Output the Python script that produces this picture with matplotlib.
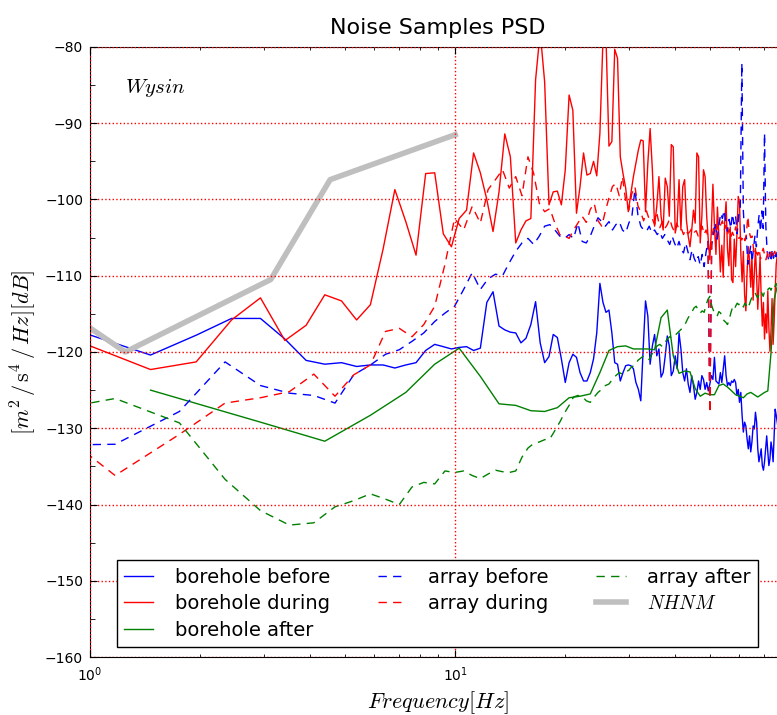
import numpy as np
import matplotlib
matplotlib.use("Agg")
import matplotlib.pyplot as plt
from matplotlib.ticker import MultipleLocator, LogLocator, NullFormatter

# bin width of each PSD estimate (Hz)
borehole_df = 250.0 / 512      # borehole sensor, first bin k=2
array_df = 300.0 / 512         # surface array, first bin k=1
after_df = 375.0 / 256         # borehole after, first bin k=1

# PSD levels in dB re 1 (m/s^2)^2/Hz
borehole_before = [
    -117.6, -120.4, -117.8, -115.6, -115.6, -118.3, -121.1, -121.6, -121.4, -121.9,
    -121.7, -121.7, -122.1, -121.7, -121.4, -119.8, -119.0, -119.3, -119.6, -119.4,
    -119.3, -119.8, -119.5, -113.5, -112.1, -116.6, -117.1, -117.4, -117.5, -118.8,
    -118.2, -116.4, -113.4, -118.8, -121.4, -120.6, -117.7, -118.1, -120.9, -124.0,
    -121.4, -120.3, -120.7, -122.7, -123.8, -123.8, -122.7, -120.9, -117.5, -111.0,
    -113.5, -114.8, -114.5, -117.5, -121.4, -121.6, -123.8, -122.7, -121.8, -121.7,
    -121.8, -122.2, -124.0, -124.9, -126.4, -119.6, -113.3, -115.3, -121.6, -119.2,
    -117.7, -120.5, -119.6, -123.3, -122.7, -120.5, -117.9, -119.2, -123.1, -122.5,
    -120.5, -122.2, -117.5, -119.6, -122.7, -123.8, -122.2, -124.2, -125.3, -123.1,
    -124.4, -126.2, -125.3, -123.8, -124.9, -123.1, -123.6, -124.9, -124.0, -125.1,
    -124.2, -123.1, -123.6, -120.7, -123.8, -124.0, -124.2, -122.7, -124.0, -122.2,
    -120.5, -123.1, -124.4, -124.0, -124.4, -123.8, -124.0, -123.6, -124.0, -125.7,
    -124.9, -126.6, -125.3, -128.3, -130.5, -129.2, -129.7, -131.4, -132.7, -131.0,
    -133.1, -131.8, -129.7, -130.1, -127.9, -129.2, -132.7, -134.4, -133.6, -132.7,
    -134.9, -135.5, -134.4, -132.7, -131.0, -133.1, -134.9, -134.0, -131.8, -132.7,
    -134.4, -131.0, -127.5, -128.3, -129.2, -130.1, -128.6, -131.2, -129.5, -132.0,
    -130.3, -131.1, -129.4,
]

borehole_during = [
    -119.0, -122.3, -121.3, -115.8, -112.9, -118.5, -116.5, -112.5, -113.3, -115.8,
    -113.8, -106.5, -98.7, -102.9, -107.3, -96.6, -96.5, -104.5, -106.2, -102.5,
    -101.4, -93.9, -96.5, -100.0, -104.2, -99.0, -91.4, -94.4, -105.7, -104.0,
    -102.8, -102.5, -84.3, -78.0, -84.6, -100.7, -99.0, -98.9, -100.7, -96.1,
    -86.3, -88.3, -101.8, -98.3, -93.9, -96.8, -96.6, -95.0, -96.9, -91.3,
    -79.0, -78.8, -93.0, -92.4, -80.3, -81.5, -94.4, -96.6, -98.5, -101.6,
    -99.2, -97.0, -95.2, -93.5, -92.2, -92.3, -101.6, -95.2, -90.7, -96.1,
    -103.5, -100.9, -97.0, -102.2, -104.0, -97.2, -98.3, -102.2, -92.8, -93.1,
    -104.4, -103.1, -97.4, -104.0, -98.3, -97.4, -102.7, -104.8, -106.2, -104.0,
    -101.4, -103.1, -93.9, -94.4, -105.7, -102.2, -96.1, -97.0, -102.2, -105.3,
    -107.9, -104.0, -98.0, -103.5, -107.2, -101.0, -104.8, -109.5, -106.0, -110.2,
    -103.0, -100.3, -106.5, -108.7, -103.6, -110.5, -110.9, -105.2, -108.8, -104.5,
    -99.6, -100.5, -107.0, -110.8, -106.8, -112.5, -114.6, -109.5, -106.2, -108.0,
    -111.5, -107.5, -113.2, -109.8, -106.4, -110.2, -114.4, -111.0, -107.6, -112.8,
    -116.6, -113.5, -118.3, -115.0, -117.5, -112.0, -116.8, -119.9, -117.2, -113.0,
    -119.0, -116.0, -112.0, -108.5, -107.3, -107.0, -107.5, -106.8, -107.2, -107.6,
    -106.9, -107.3, -107.1,
]

borehole_after = [
    -125.0, -129.2, -131.7, -128.3, -125.3, -121.6, -119.5, -123.2, -126.8, -127.0,
    -127.7, -127.8, -127.3, -126.0, -125.8, -125.5, -122.7, -119.8, -119.3, -119.2,
    -119.6, -119.6, -119.6, -119.7, -115.5, -114.5, -120.5, -122.8, -122.5, -122.6,
    -124.8, -125.8, -125.4, -125.6, -125.6, -124.4, -124.2, -124.6, -125.1, -125.6,
    -125.8, -126.0, -125.5, -125.3, -125.6, -125.9, -125.6, -125.3, -125.1, -120.1,
    -113.1, -111.4, -109.5, -108.3, -108.0,
]

array_before = [
    -132.3, -132.1, -127.8, -121.3, -124.4, -125.4, -125.7, -126.7, -123.0, -121.7,
    -120.3, -119.7, -118.6, -117.5, -116.0, -114.9, -114.0, -111.8, -109.6, -111.8,
    -110.4, -109.8, -110.0, -108.3, -106.8, -105.7, -105.1, -105.9, -104.8, -103.5,
    -103.3, -104.0, -104.8, -105.1, -104.6, -105.1, -103.1, -105.5, -105.7, -104.8,
    -103.5, -102.4, -102.9, -103.5, -102.9, -104.0, -103.3, -102.9, -104.0, -104.4,
    -103.1, -102.2, -98.7, -102.0, -103.5, -104.0, -104.2, -103.5, -104.4, -104.0,
    -104.6, -104.2, -105.1, -104.6, -105.3, -105.9, -104.8, -105.7, -106.4, -105.5,
    -106.6, -107.0, -105.7, -106.8, -107.9, -106.6, -107.7, -108.3, -107.5, -108.6,
    -107.2, -108.8, -106.9, -105.5, -128.0, -106.0, -104.5, -103.0, -105.2, -103.5,
    -101.8, -102.5, -101.4, -103.0, -104.2, -102.6, -103.8, -101.9, -103.2, -102.2,
    -104.5, -102.0, -101.0, -82.1, -101.5, -105.3, -104.8, -108.5, -107.4, -106.0,
    -108.2, -106.3, -104.7, -106.2, -103.6, -102.0, -104.2, -101.5, -103.8, -91.3,
    -103.5, -106.8, -107.9, -106.9, -108.2, -106.5, -107.7, -106.8, -107.5, -106.9,
    -107.2, -106.6, -107.8, -106.9, -107.4, -107.0,
]

array_during = [
    -124.9, -136.2, -130.8, -126.7, -126.0, -125.2, -122.9, -125.8, -123.0, -121.7,
    -117.3, -116.9, -118.0, -116.4, -114.0, -108.5, -102.5, -104.0, -100.9, -103.1,
    -98.7, -97.4, -96.1, -98.5, -97.0, -99.5, -94.4, -96.6, -100.5, -101.6,
    -101.2, -103.1, -104.6, -104.8, -105.1, -104.0, -103.1, -102.2, -103.0, -101.3,
    -100.5, -102.8, -103.5, -101.5, -99.8, -98.3, -97.9, -99.5, -97.0, -100.2,
    -101.4, -99.2, -98.3, -100.8, -101.7, -102.8, -101.5, -102.6, -102.4, -103.3,
    -102.0, -103.7, -102.9, -103.8, -103.3, -102.5, -103.6, -104.2, -103.1, -104.0,
    -103.8, -104.6, -103.9, -104.5, -104.2, -103.7, -104.3, -104.1, -104.8, -104.2,
    -103.5, -104.6, -104.0, -104.8, -128.0, -104.9, -103.8, -104.4, -103.5, -104.1,
    -103.3, -102.8, -104.0, -103.4, -104.6, -103.9, -105.0, -104.3, -104.8, -103.6,
    -104.5, -105.1, -104.9, -105.3, -104.7, -105.4, -104.6, -102.2, -104.3, -105.0,
    -104.8, -106.6, -107.4, -106.9, -107.3, -106.5, -107.8, -107.0, -106.4, -107.2,
    -107.9, -107.3, -106.6, -107.5, -106.9, -107.6, -107.1, -106.8, -107.4, -106.9,
    -107.3, -106.7, -107.5, -107.0, -106.8, -107.2,
]

array_after = [
    -128.7, -126.1, -129.3, -136.7, -140.8, -142.7, -142.4, -140.3, -139.5, -138.6,
    -139.3, -140.0, -137.7, -137.1, -137.3, -135.6, -135.8, -135.6, -136.2, -136.6,
    -136.0, -135.5, -135.7, -135.8, -135.6, -133.8, -132.6, -132.0, -131.8, -131.5,
    -131.4, -130.3, -129.2, -128.0, -127.0, -125.9, -125.7, -125.8, -126.4, -126.6,
    -125.9, -125.3, -124.9, -124.4, -124.2, -123.6, -123.1, -122.7, -122.9, -122.6,
    -122.4, -121.9, -121.8, -121.1, -120.8, -120.5, -120.7, -121.0, -120.3, -119.6,
    -119.2, -119.0, -119.3, -118.8, -118.3, -118.0, -118.2, -117.9, -117.6, -117.3,
    -117.0, -116.6, -116.2, -115.6, -115.1, -114.7, -114.2, -114.0, -114.5, -114.9,
    -114.6, -114.8, -113.8, -113.1, -112.7, -113.9, -114.6, -115.1, -115.3, -114.7,
    -114.9, -115.6, -115.9, -116.1, -116.4, -115.8, -114.9, -114.2, -114.5, -114.0,
    -113.6, -113.8, -113.5, -113.7, -114.1, -113.6, -113.9, -113.4, -113.8, -113.2,
    -112.8, -112.5, -112.2, -112.6, -112.9, -112.4, -112.0, -112.3, -112.7, -112.1,
    -111.8, -112.0, -111.7, -111.6, -111.9, -111.4, -111.2, -111.5, -111.0, -111.3,
    -111.1, -110.8, -111.2, -110.9, -111.3, -111.0,
]

# Peterson New High Noise Model, evaluated at its breakpoints
nhnm_period = [1.0, 0.8, 0.32, 0.22, 0.1]
nhnm_db = [-116.85, -120.0, -110.5, -97.4, -91.5]

f_bh = np.arange(2, 2 + len(borehole_before)) * borehole_df
f_arr = np.arange(1, 1 + len(array_before)) * array_df
f_after = np.arange(1, 1 + len(borehole_after)) * after_df
f_nhnm = 1.0 / np.array(nhnm_period)

fig = plt.figure(figsize=(7.77, 7.15), dpi=100)
ax = fig.add_axes([0.1158, 0.0811, 0.8945, 0.8532])

dash = (6, 4.5)
ax.semilogx(f_bh, borehole_before, color='b', lw=1, label='borehole before')
ax.semilogx(f_bh, borehole_during, color='r', lw=1, label='borehole during')
ax.semilogx(f_after, borehole_after, color='g', lw=1, label='borehole after')
ax.semilogx(f_arr, array_before, color='b', lw=1, ls='--', dashes=dash, label='array before')
ax.semilogx(f_arr, array_during, color='r', lw=1, ls='--', dashes=dash, label='array during')
ax.semilogx(f_arr, array_after, color='g', lw=1, ls='--', dashes=dash, label='array after')
ax.semilogx(f_nhnm, nhnm_db, color='0.75', lw=4, label='$NHNM$')

ax.set_xlim(1, 80)
ax.set_ylim(-160, -80)
ax.yaxis.set_major_locator(MultipleLocator(10))
ax.yaxis.set_minor_locator(MultipleLocator(5))
ax.xaxis.set_major_locator(LogLocator(base=10))
ax.xaxis.set_minor_locator(LogLocator(base=10, subs=np.arange(2, 10)))
ax.xaxis.set_minor_formatter(NullFormatter())

ax.tick_params(which='both', direction='in', top=True, right=True, labelsize=10)
ax.tick_params(axis='x', which='major', length=5, pad=6)
ax.tick_params(axis='x', which='minor', length=2.5)
ax.tick_params(axis='y', which='major', length=5, pad=5)
ax.tick_params(axis='y', which='minor', length=3.4)

ax.set_axisbelow(False)
ax.grid(True, which='major', color='r', linestyle=':', linewidth=1)

ax.set_title('Noise Samples PSD', fontsize=16, pad=9)
ax.set_xlabel('$Frequency[Hz]$', fontsize=16, math_fontfamily='cm', labelpad=4)
ax.set_ylabel(r'$[m^2\,/\,\mathrm{s}^4\,/\,Hz][dB]$', fontsize=16,
              math_fontfamily='cm', labelpad=4)
ax.text(0.05, 0.933, '$Wysin$', transform=ax.transAxes, fontsize=15,
        math_fontfamily='cm', ha='left', va='center')

leg = ax.legend(loc='lower center', ncol=3, fontsize=14, handlelength=1.5,
                handletextpad=1.1, labelspacing=0.38, columnspacing=2.45,
                borderpad=0.4, fancybox=False, framealpha=1, edgecolor='black')
leg.get_frame().set_linewidth(1)
for t in leg.get_texts():
    t.set_math_fontfamily('cm')

fig.savefig('out.png', dpi=100)
